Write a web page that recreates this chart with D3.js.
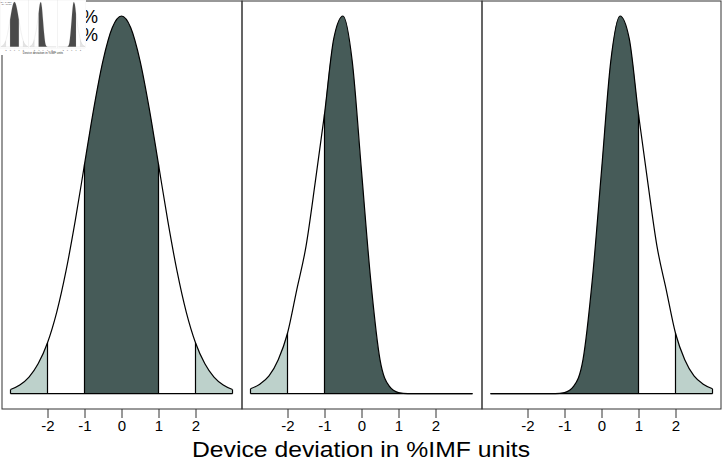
<!DOCTYPE html>
<html>
<head>
<meta charset="utf-8">
<script src="https://cdn.jsdelivr.net/npm/d3@7"></script>
<style>
  body { margin: 0; background: #fff; }
  svg { display: block; }
</style>
</head>
<body>
<div id="chart"></div>
<script>
const grid = [-3, -2.75, -2.5, -2.25, -2, -1.75, -1.5, -1.25, -1, -0.75, -0.5, -0.25,
  0, 0.25, 0.5, 0.75, 1, 1.25, 1.5, 1.75, 2, 2.25, 2.5, 2.75, 3];

// relative density (peak = 1) for the three panels
const centred = [0.011, 0.023, 0.044, 0.080, 0.135, 0.216, 0.325, 0.458, 0.607, 0.755, 0.882, 0.969,
  1, 0.969, 0.882, 0.755, 0.607, 0.458, 0.325, 0.216, 0.135, 0.080, 0.044, 0.023, 0.011];
const shiftedLeft = [0.013, 0.025, 0.047, 0.09, 0.16, 0.275, 0.39, 0.56, 0.74, 0.94, 1, 0.88,
  0.59, 0.30, 0.09, 0.02, 0.003, 0, 0, 0, 0, 0, 0, 0, 0];
const shiftedRight = [0, 0, 0, 0, 0, 0, 0, 0, 0.003, 0.02, 0.09, 0.30,
  0.59, 0.88, 1, 0.94, 0.74, 0.56, 0.39, 0.275, 0.16, 0.09, 0.047, 0.025, 0.013];
const panels = [centred, shiftedLeft, shiftedRight];

const tickValues = [-2, -1, 0, 1, 2];
const cuts = [-3, -2, -1, 1, 2, 3];
const bands = [[-3, -2, 'tail'], [-1, 1, 'core'], [2, 3, 'tail']];
const notes = ['|d| < 1:  68%', '|d| > 2:  5%'];
const axisTitle = 'Device deviation in %IMF units';

const W = 723, H = 461;

const svg = d3.select('#chart').append('svg')
  .attr('width', W)
  .attr('height', H)
  .style('font-family', '"Liberation Sans", Arial, Helvetica, sans-serif');

function drawChart(root, pal) {
  const top = 1, bottom = 409, panelW = 240, left0 = 2;
  const y = d3.scaleLinear().domain([0, 1]).range([393.7, 16]);

  panels.forEach((vals, i) => {
    const left = left0 + i * panelW;
    const right = Math.min(left + panelW, 721);
    const x = d3.scaleLinear().domain([-3, 3]).range([left + 8.5, left + 230.5]);
    const pts = grid.map((g, j) => ({ x: g, v: vals[j] }));
    const g = root.append('g');

    g.append('rect')
      .attr('x', left).attr('y', top)
      .attr('width', right - left).attr('height', bottom - top)
      .attr('fill', 'none')
      .attr('stroke', pal.frame)
      .attr('stroke-width', 1);

    const area = d3.area()
      .x(d => x(d.x))
      .y0(y(0))
      .y1(d => y(d.v))
      .curve(d3.curveMonotoneX);

    bands.forEach(([a, b, kind]) => {
      g.append('path')
        .datum(pts.filter(d => d.x >= a && d.x <= b))
        .attr('fill', kind === 'core' ? pal.core : pal.tail)
        .attr('d', area);
    });

    const line = d3.line()
      .x(d => x(d.x))
      .y(d => y(d.v))
      .curve(d3.curveMonotoneX);

    g.append('path')
      .datum(pts)
      .attr('fill', 'none')
      .attr('stroke', pal.curve)
      .attr('stroke-width', 1.2)
      .attr('d', line);

    g.append('line')
      .attr('x1', x(-3)).attr('x2', x(3))
      .attr('y1', y(0)).attr('y2', y(0))
      .attr('stroke', pal.curve)
      .attr('stroke-width', 1.2);

    cuts.forEach(c => {
      const v = vals[grid.indexOf(c)];
      g.append('line')
        .attr('x1', x(c)).attr('x2', x(c))
        .attr('y1', y(0)).attr('y2', y(v))
        .attr('stroke', pal.curve)
        .attr('stroke-width', 1.2);
    });

    const axis = d3.axisBottom(x)
      .tickValues(tickValues)
      .tickSize(9)
      .tickPadding(2)
      .tickFormat(d3.format('d'));

    const ax = g.append('g')
      .attr('transform', `translate(0,${bottom})`)
      .call(axis);
    ax.select('.domain').remove();
    ax.selectAll('.tick line').attr('stroke', pal.frame);
    ax.selectAll('.tick text')
      .attr('fill', pal.text)
      .attr('font-size', 15)
      .attr('font-family', '"Liberation Sans", Arial, sans-serif')
      .text(d => d < 0 ? '-' + Math.abs(d) : d);
  });

  root.append('text')
    .attr('x', 361)
    .attr('y', 456.5)
    .attr('text-anchor', 'middle')
    .attr('font-size', 22.5)
    .attr('textLength', 338)
    .attr('lengthAdjust', 'spacingAndGlyphs')
    .attr('fill', pal.text)
    .text(axisTitle);

  notes.forEach((n, i) => {
    root.append('text')
      .attr('x', 98)
      .attr('y', 23 + i * 18)
      .attr('text-anchor', 'end')
      .attr('font-size', 18)
      .attr('fill', pal.text)
      .text(n);
  });
}

// main figure
drawChart(svg.append('g'), {
  core: '#465b58', tail: '#bdd1cb', curve: '#000', frame: '#333', text: '#000'
});

// small grey thumbnail of the figure pasted over the top-left corner
const thumb = svg.append('g');
thumb.append('rect')
  .attr('x', 0).attr('y', 0)
  .attr('width', 86).attr('height', 55)
  .attr('fill', '#fff');
drawChart(thumb.append('g').attr('transform', 'scale(0.119)'), {
  core: '#4a4a4a', tail: '#e4e4e4', curve: '#9a9a9a', frame: '#c8c8c8', text: '#333'
});
</script>
</body>
</html>
